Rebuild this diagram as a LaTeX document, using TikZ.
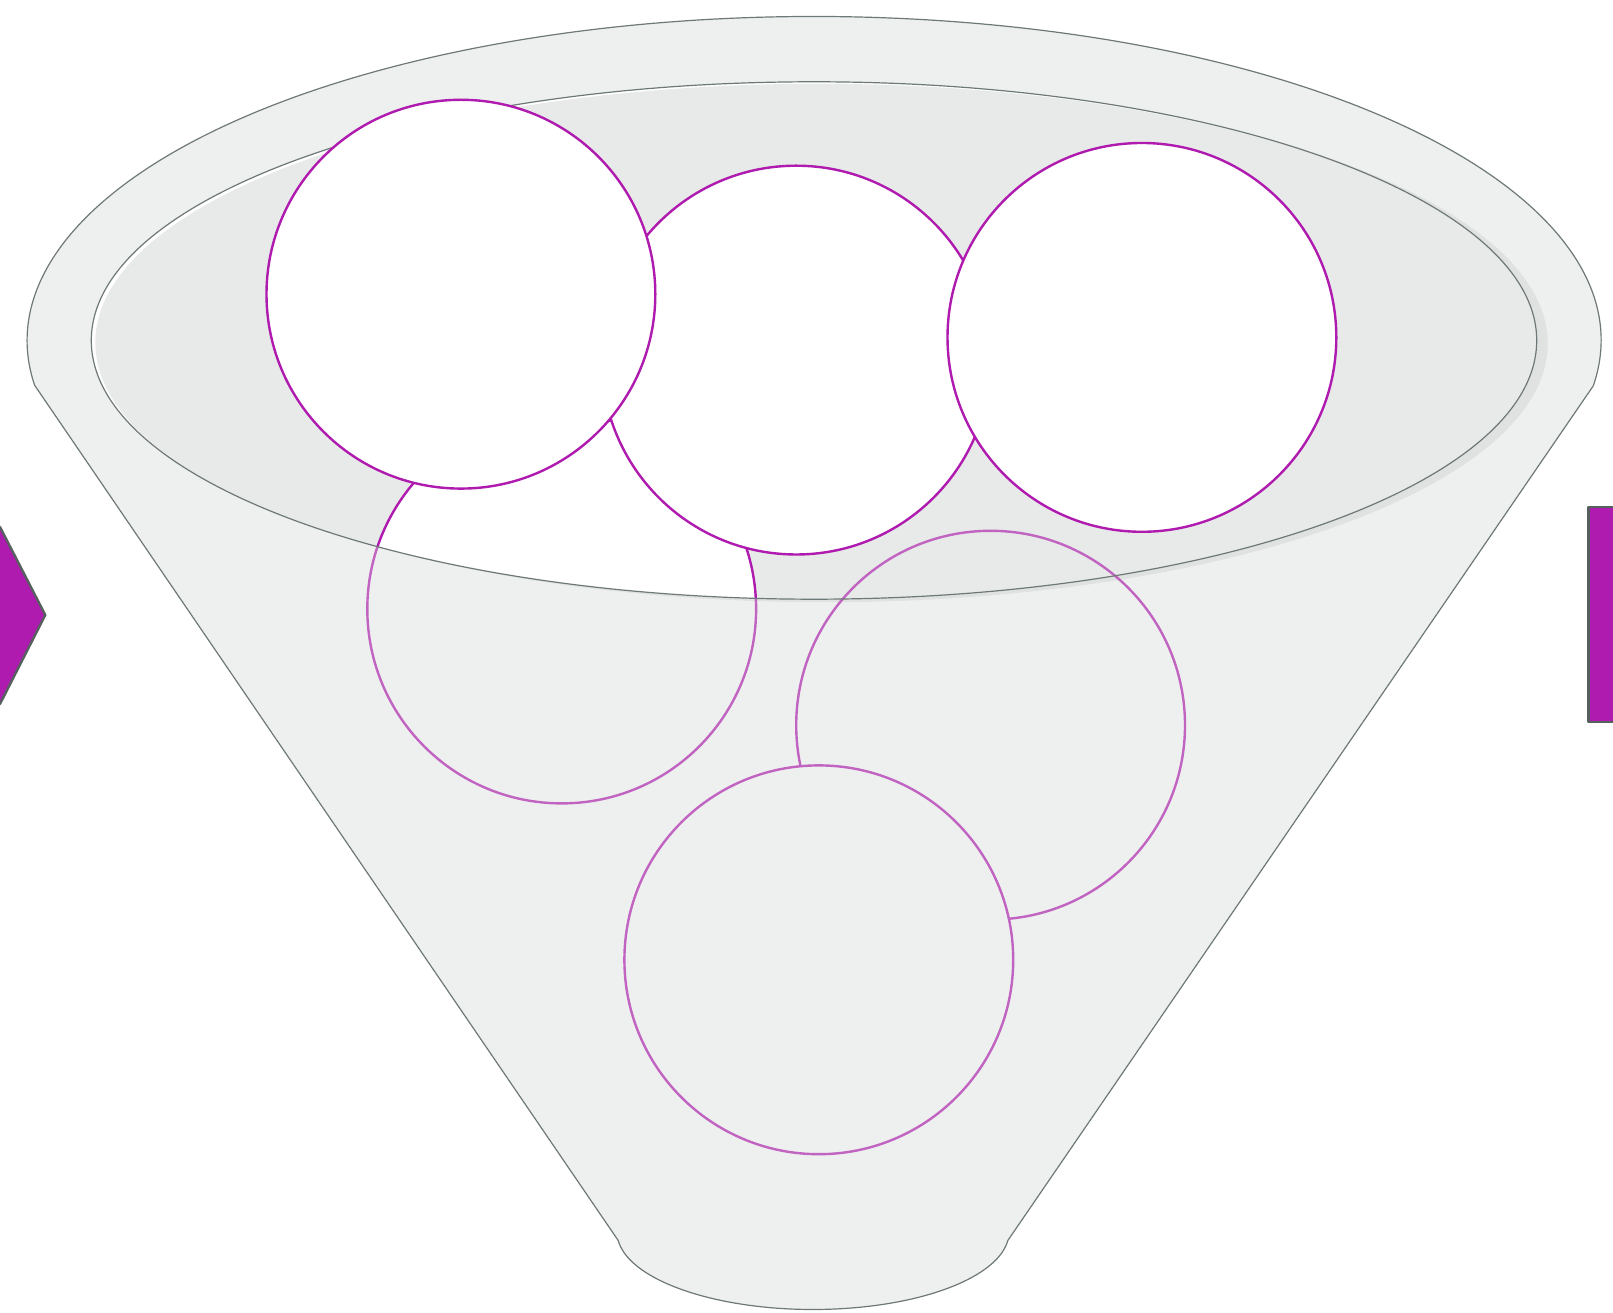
\documentclass[tikz,border=0pt]{standalone}
\usetikzlibrary{calc}
\definecolor{funnelfill}{HTML}{EEF0EF}
\definecolor{mouthfill}{HTML}{E8EAE9}
\definecolor{mouthshade}{HTML}{E0E2E2}
\definecolor{rimline}{HTML}{6E7878}
\definecolor{ballline}{HTML}{AF1AAF}
\definecolor{balllight}{HTML}{C163C1}
\definecolor{tabline}{HTML}{56605F}
\tikzset{rim/.style={draw=rimline, line width=1.2}, ball/.style={draw=ballline, line width=2.4, fill=white}, sunk/.style={draw=balllight, line width=2.4}}

\begin{document}
\begin{tikzpicture}[x=1pt, y=1pt, line join=bevel]
\useasboundingbox (0,0) rectangle (1613,1312);
\coordinate (O) at (814,971.5); \coordinate (L1) at (35,926.2); \coordinate (L2) at (618.2,71.5); \coordinate (R1) at (1593.3,926.2);
\coordinate (C1) at (460.9,1017.8); \coordinate (C2) at (796.2,951.9); \coordinate (C3) at (1141.9,974.6);
\coordinate (C4) at (561.7,703); \coordinate (C5) at (990.6,586.8); \coordinate (C6) at (818.8,352.2);
\draw[fill=ballline, draw=tabline, line width=2.4] (-10,785) -- (0,785) -- (45.3,697) -- (0,608) -- (-10,608) -- cycle;
\draw[fill=ballline, draw=tabline, line width=2.4] (1588.3,805) rectangle (1625,590);
\draw[rim, fill=funnelfill] (L1) -- (L2) arc[start angle=186.3, end angle=353.7, x radius=196, y radius=77.5] -- (R1) arc[start angle=-8.04, end angle=188.04, x radius=787, y radius=324] -- cycle;
\fill[mouthshade] ($(O)+(11,-3)$) ellipse[x radius=722.7, y radius=258.7];
\fill[white] (O) ellipse[x radius=722.7, y radius=258.7];
\begin{scope} \clip (O) ellipse[x radius=722.7, y radius=258.7]; \fill[mouthfill] ($(O)+(4,-2)$) ellipse[x radius=722.7, y radius=258.7]; \end{scope}
\draw[sunk] (C5) circle[radius=194.4]; \draw[sunk, fill=funnelfill] (C6) circle[radius=194.4];
\begin{scope} \clip (O) ellipse[x radius=722.7, y radius=258.7]; \draw[ball] (C4) circle[radius=194.4]; \end{scope}
\begin{scope}[even odd rule] \clip (-20,-20) rectangle (1640,1330) (O) ellipse[x radius=722.7, y radius=258.7]; \draw[sunk] (C4) circle[radius=194.4]; \end{scope}
\draw[rim] (O) ellipse[x radius=722.7, y radius=258.7];
\draw[ball] (C2) circle[radius=194.4]; \draw[ball] (C1) circle[radius=194.4]; \draw[ball] (C3) circle[radius=194.4];
\end{tikzpicture}
\end{document}
